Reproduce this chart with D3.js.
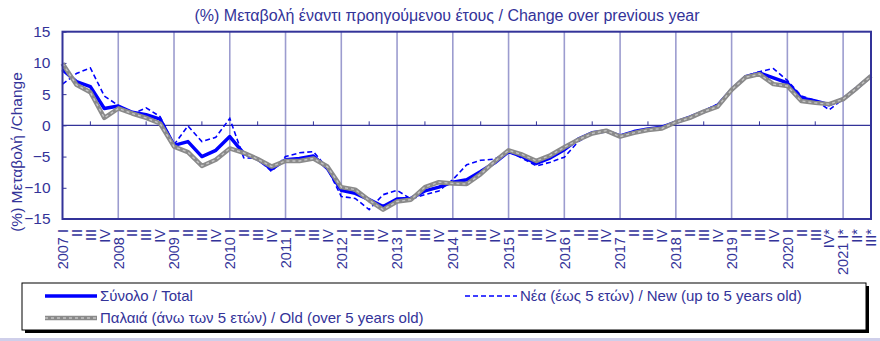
<!DOCTYPE html>
<html><head><meta charset="utf-8">
<script src="https://cdn.jsdelivr.net/npm/d3@7"></script>
<style>
html,body{margin:0;padding:0;background:#fff;}
svg{display:block;font-family:"Liberation Sans",Arial,sans-serif;}
</style></head>
<body><svg id="c" width="880" height="341"></svg>
<script>
const years = [2007,2008,2009,2010,2011,2012,2013,2014,2015,2016,2017,2018,2019,2020,2021];
const quarterNames = ["I","II","III","IV"];
const provisionalFrom = 55; // index of first provisional quarter (2020 IV*)

const totalValues = [8.9,7.0,6.2,2.7,3.1,2.1,1.7,1.0,-3.2,-2.6,-5.0,-4.0,-1.8,-4.5,-5.4,-7.0,-5.5,-5.3,-4.9,-6.9,-10.4,-10.9,-11.9,-13.0,-11.8,-11.7,-10.5,-9.9,-9.1,-8.7,-7.4,-6.0,-4.2,-5.0,-6.1,-5.2,-3.9,-2.2,-1.2,-0.9,-1.7,-1.0,-0.6,-0.3,0.5,1.3,2.2,3.2,5.7,7.8,8.4,7.6,6.8,4.4,3.9,3.3,4.2,6.0,7.9];
const newValues = [6.6,8.3,9.2,4.7,3.2,1.8,2.8,1.4,-3.1,-0.1,-2.6,-1.9,1.1,-5.2,-5.3,-7.4,-5.0,-4.4,-4.2,-6.9,-11.4,-11.7,-13.5,-11.1,-10.4,-11.8,-11.1,-10.5,-8.7,-6.3,-5.6,-5.4,-4.2,-5.3,-6.5,-5.9,-5.1,-2.6,-1.3,-0.9,-1.6,-1.0,-0.6,-0.2,0.6,1.4,2.3,3.4,5.7,7.9,8.6,9.1,7.2,4.7,4.0,2.5,4.2,6.0,7.9];
const oldValues = [9.9,6.5,5.3,1.2,2.7,1.9,1.2,0.3,-3.4,-4.3,-6.5,-5.5,-3.7,-4.4,-5.4,-6.6,-5.7,-5.7,-5.3,-6.6,-9.9,-10.3,-12.0,-13.5,-12.2,-11.9,-9.9,-9.1,-9.3,-9.4,-7.8,-5.8,-4.0,-4.7,-5.7,-4.8,-3.5,-2.3,-1.3,-0.85,-1.8,-1.2,-0.75,-0.5,0.5,1.2,2.2,3.0,5.7,7.7,8.2,6.6,6.3,3.9,3.6,3.4,4.2,6.0,7.9];
const yTicks = [-15,-10,-5,0,5,10,15];

const titleText = "(%) Μεταβολή έναντι προηγούμενου έτους / Change over previous year";
const yTitle = "(%) Μεταβολή /Change";
const legendLabels = ["Σύνολο / Total","Νέα (έως 5 ετών) / New (up to 5 years old)","Παλαιά (άνω των 5 ετών) / Old (over 5 years old)"];

const labels = totalValues.map((d,i)=>{
  const y = years[Math.floor(i/4)], q = i%4;
  let s = (q===0 ? y+" " : "") + quarterNames[q];
  if (i >= provisionalFrom) s += "*";
  return s;
});

const navy = "#333399";
const FF = "'Liberation Sans',Arial,sans-serif";
const svg = d3.select("#c");
const L = 62.5, R = 871, T = 31.7, B = 219;
const x = d3.scaleLinear().domain([0, totalValues.length-1]).range([L, R]);
const y = d3.scaleLinear().domain([-15, 15]).range([B, T]);

svg.append("rect").attr("x",0).attr("y",338).attr("width",880).attr("height",3).attr("fill","#cfcfea");

svg.append("text").attr("x",447).attr("y",21).attr("text-anchor","middle")
  .attr("fill",navy).style("font-size","16px").text(titleText);

svg.append("g").selectAll("line").data(d3.range(4, totalValues.length, 4)).join("line")
  .attr("x1",d=>x(d)).attr("x2",d=>x(d)).attr("y1",T).attr("y2",B)
  .attr("stroke","#9c9ccf").attr("stroke-width",1.6);

svg.append("line").attr("x1",L).attr("x2",R).attr("y1",y(0)).attr("y2",y(0))
  .attr("stroke",navy).attr("stroke-width",1.2);
svg.append("g").selectAll("line").data(d3.range(2, totalValues.length-1, 4)).join("line")
  .attr("x1",d=>x(d)).attr("x2",d=>x(d)).attr("y1",y(0)).attr("y2",y(0)-4)
  .attr("stroke",navy).attr("stroke-width",1);

const ya = svg.append("g").attr("transform",`translate(${L},0)`)
  .call(d3.axisLeft(y).tickValues(yTicks).tickSize(-4).tickPadding(12).tickFormat(d3.format("d")));
ya.select(".domain").remove();
ya.selectAll("line").attr("stroke",navy);
ya.selectAll("text").attr("fill",navy).style("font-size","15.5px").style("font-family",FF);

const xa = svg.append("g").attr("transform",`translate(0,${B})`)
  .call(d3.axisBottom(x).tickValues(d3.range(totalValues.length)).tickSize(0).tickFormat(i=>labels[i]));
xa.select(".domain").remove();
xa.selectAll("text").attr("y",0).attr("x",-10).attr("dy","0.33em")
  .attr("transform","rotate(-90)").style("text-anchor","end")
  .attr("fill",navy).style("font-size","14.5px").style("font-family",FF);

svg.append("text").attr("transform","translate(22,152) rotate(-90)").attr("text-anchor","middle")
  .attr("fill",navy).style("font-size","15.5px").text(yTitle);

const line = d3.line().x((d,i)=>x(i)).y(d=>y(d));
const g = svg.append("g");
g.append("path").attr("d",line(totalValues)).attr("fill","none").attr("stroke","#0000ff").attr("stroke-width",3.5).attr("stroke-linejoin","round");
g.append("path").attr("d",line(newValues)).attr("fill","none").attr("stroke","#0000ff").attr("stroke-width",1.6).attr("stroke-dasharray","5,3");
g.append("path").attr("d",line(oldValues)).attr("fill","none").attr("stroke","#8a8a8a").attr("stroke-width",4.5).attr("stroke-linejoin","round");
g.append("path").attr("d",line(oldValues)).attr("fill","none").attr("stroke","#c4c4c4").attr("stroke-width",1.4).attr("stroke-dasharray","3,3");

svg.append("rect").attr("x",L).attr("y",T).attr("width",R-L).attr("height",B-T)
  .attr("fill","none").attr("stroke",navy).attr("stroke-width",2);

const lg = svg.append("g");
lg.append("rect").attr("x",25).attr("y",286).attr("width",844).attr("height",47).attr("fill","#000");
lg.append("rect").attr("x",22).attr("y",283).attr("width",844).attr("height",47).attr("fill","#fff").attr("stroke","#000").attr("stroke-width",1);
const items = [
  {x:45, y:296, label:legendLabels[0], draw:(s)=>s.append("line").attr("stroke","#0000ff").attr("stroke-width",3.5)},
  {x:465, y:296, label:legendLabels[1], draw:(s)=>s.append("line").attr("stroke","#0000ff").attr("stroke-width",1.6).attr("stroke-dasharray","5,3")},
  {x:45, y:318, label:legendLabels[2], draw:(s)=>{s.append("line").attr("stroke","#8a8a8a").attr("stroke-width",4.5); s.append("line").attr("stroke","#c4c4c4").attr("stroke-width",1.4).attr("stroke-dasharray","3,3");}}
];
items.forEach(it=>{
  const s = lg.append("g").attr("transform",`translate(${it.x},${it.y})`);
  it.draw(s);
  s.selectAll("line").attr("x1",0).attr("x2",52).attr("y1",0).attr("y2",0);
  s.append("text").attr("x",55).attr("y",0).attr("dy","0.35em").attr("fill",navy).style("font-size","15px").text(it.label);
});
</script></body></html>
